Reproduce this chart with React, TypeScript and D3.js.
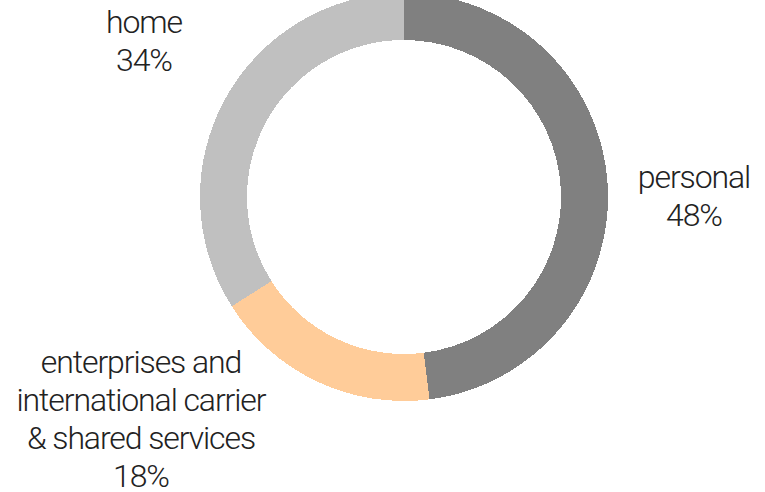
import React from "react";
import * as d3 from "d3";

const categories = ["personal", "enterprises and international carrier & shared services", "home"];
const values = [48, 18, 34];
const colors = ["#808080", "#FFCC99", "#C0C0C0"];
const labelLines = [
  ["personal", "48%"],
  ["enterprises and", "international carrier", "& shared services", "18%"],
  ["home", "34%"],
];

const W = 765;
const H = 492;
const CX = 404;
const CY = 197;
const R_OUT = 204;
const R_IN = 157;
const LINE_H = 38;
// label anchor (center x, first baseline y)
const labelPos = [
  { x: 694, y: 188 },
  { x: 141, y: 373 },
  { x: 144, y: 33 },
];

export default function App() {
  const pie = d3.pie<number>().value((d) => d).sort(null);
  const arcs = pie(values);
  const arc = d3.arc<d3.PieArcDatum<number>>().innerRadius(R_IN).outerRadius(R_OUT);
  return (
    <div style={{ position: "absolute", left: 0, top: 0 }}>
      <svg width={W} height={H} style={{ display: "block", background: "#fff" }}>
        <g transform={`translate(${CX},${CY})`}>
          {arcs.map((a, i) => (
            <path key={categories[i]} d={arc(a) || ""} fill={colors[i]} shapeRendering="crispEdges" />
          ))}
        </g>
        {labelLines.map((lines, i) => (
          <text
            key={i}
            x={labelPos[i].x}
            y={labelPos[i].y}
            textAnchor="middle"
            fontFamily="Roboto, 'Helvetica Neue', Arial, sans-serif"
            fontWeight={300}
            fontSize={32}
            letterSpacing={-1.1}
            fill="#222"
          >
            {lines.map((l, j) => (
              <tspan key={j} x={labelPos[i].x} dy={j === 0 ? 0 : LINE_H}>
                {l}
              </tspan>
            ))}
          </text>
        ))}
      </svg>
    </div>
  );
}
